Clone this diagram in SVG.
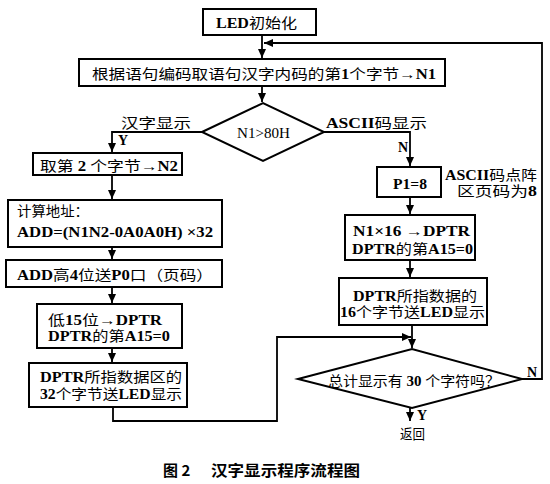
<svg xmlns="http://www.w3.org/2000/svg" width="550" height="484" viewBox="0 0 550 484">
<style>
.b{fill:#fff;stroke:#000;stroke-width:2}
.l{fill:none;stroke:#000;stroke-width:1.8}
text{font-family:"Liberation Serif","Noto Sans CJK SC",serif;font-size:14px;fill:#000}
.w{font-weight:bold}
.cap{font-family:"Noto Sans CJK SC",sans-serif;font-weight:bold;font-size:15px}
</style>
<defs>
<marker id="a" markerWidth="9" markerHeight="8" refX="9" refY="4" orient="auto" markerUnits="userSpaceOnUse"><path d="M0,0 L9,4 L0,8 z" fill="#000"/></marker>
</defs>
<rect width="550" height="484" fill="#fff"/>
<g id="connectors">
<path class="l" d="M262,35 V58" marker-end="url(#a)"/>
<path class="l" d="M522,379 H542 V43 H264" marker-end="url(#a)"/>
<path class="l" d="M262,86 V102" marker-end="url(#a)"/>
<path class="l" d="M202,132 H112 V152" marker-end="url(#a)"/>
<path class="l" d="M324,132 H410 V166" marker-end="url(#a)"/>
<path class="l" d="M112,175 V199" marker-end="url(#a)"/>
<path class="l" d="M112,247 V259" marker-end="url(#a)"/>
<path class="l" d="M112,287 V303" marker-end="url(#a)"/>
<path class="l" d="M112,348 V362" marker-end="url(#a)"/>
<path class="l" d="M113,407 V421 H277 V337 H411" marker-end="url(#a)"/>
<path class="l" d="M410,197 V214" marker-end="url(#a)"/>
<path class="l" d="M410,260 V277" marker-end="url(#a)"/>
<path class="l" d="M412,325 V348" marker-end="url(#a)"/>
<path class="l" d="M410,408 V421" marker-end="url(#a)"/>
</g>
<g id="n-init"><rect class="b" x="203" y="9" width="113" height="26"/><text x="216" y="28" textLength="81" lengthAdjust="spacingAndGlyphs"><tspan class="w">LED</tspan>初始化</text></g>
<g id="n-get1"><rect class="b" x="79" y="59" width="366" height="27"/><text x="92" y="79" textLength="344" lengthAdjust="spacingAndGlyphs">根据语句编码取语句汉字内码的第<tspan class="w">1</tspan>个字节<tspan class="w">→N1</tspan></text></g>
<g id="n-dec1"><polygon class="b" points="202,132 263,103 324,132 263,161"/><text x="237" y="138" textLength="53" lengthAdjust="spacingAndGlyphs">N1&gt;80H</text></g>
<g id="labels1">
<text x="121" y="128" textLength="70" lengthAdjust="spacingAndGlyphs">汉字显示</text>
<text x="326" y="128" textLength="101" lengthAdjust="spacingAndGlyphs"><tspan class="w">ASCII</tspan>码显示</text>
<text class="w" x="118" y="145">Y</text>
<text class="w" x="398" y="152">N</text>
</g>
<g id="n-get2"><rect class="b" x="33" y="153" width="149" height="22"/><text x="40" y="171" textLength="138" lengthAdjust="spacingAndGlyphs">取第 <tspan class="w">2</tspan> 个字节<tspan class="w">→N2</tspan></text></g>
<g id="n-addr"><rect class="b" x="8" y="200" width="214" height="47"/><text x="17" y="216" textLength="72" lengthAdjust="spacingAndGlyphs">计算地址：</text><text class="w" x="17" y="237" textLength="196" lengthAdjust="spacingAndGlyphs">ADD=(N1N2-0A0A0H) ×32</text></g>
<g id="n-p0"><rect class="b" x="6" y="260" width="216" height="27"/><text x="17" y="280" textLength="196" lengthAdjust="spacingAndGlyphs"><tspan class="w">ADD</tspan>高<tspan class="w">4</tspan>位送<tspan class="w">P0</tspan>口（页码）</text></g>
<g id="n-low"><rect class="b" x="37" y="304" width="145" height="44"/><text x="48" y="325" textLength="114" lengthAdjust="spacingAndGlyphs">低<tspan class="w">15</tspan>位<tspan class="w">→DPTR</tspan></text><text x="48" y="341" textLength="122" lengthAdjust="spacingAndGlyphs"><tspan class="w">DPTR</tspan>的第<tspan class="w">A15=0</tspan></text></g>
<g id="n-send32"><rect class="b" x="29" y="363" width="158" height="44"/><text x="40" y="382" textLength="142" lengthAdjust="spacingAndGlyphs"><tspan class="w">DPTR</tspan>所指数据区的</text><text x="40" y="399" textLength="142" lengthAdjust="spacingAndGlyphs"><tspan class="w">32</tspan>个字节送<tspan class="w">LED</tspan>显示</text></g>
<g id="n-p1"><rect class="b" x="377" y="167" width="64" height="30"/><text class="w" x="393" y="189" textLength="34" lengthAdjust="spacingAndGlyphs">P1=8</text></g>
<g id="note-p1"><text x="445" y="180" textLength="92" lengthAdjust="spacingAndGlyphs"><tspan class="w">ASCII</tspan>码点阵</text><text x="457" y="196" textLength="80" lengthAdjust="spacingAndGlyphs">区页码为<tspan class="w">8</tspan></text></g>
<g id="n-n16"><rect class="b" x="345" y="215" width="130" height="45"/><text class="w" x="353" y="236" textLength="117" lengthAdjust="spacingAndGlyphs">N1×16 →DPTR</text><text x="352" y="254" textLength="121" lengthAdjust="spacingAndGlyphs"><tspan class="w">DPTR</tspan>的第<tspan class="w">A15=0</tspan></text></g>
<g id="n-send16"><rect class="b" x="339" y="278" width="148" height="47"/><text x="353" y="301" textLength="124" lengthAdjust="spacingAndGlyphs"><tspan class="w">DPTR</tspan>所指数据的</text><text x="340" y="317" textLength="145" lengthAdjust="spacingAndGlyphs"><tspan class="w">16</tspan>个字节送<tspan class="w">LED</tspan>显示</text></g>
<g id="n-dec2"><polygon class="b" points="298,379 412,349 522,379 412,408"/><text x="328" y="386" textLength="172" lengthAdjust="spacingAndGlyphs">总计显示有 <tspan class="w">30</tspan> 个字符吗？</text></g>
<g id="labels2">
<text class="w" x="527" y="377">N</text>
<text class="w" x="417" y="420">Y</text>
<text x="400" y="439" textLength="25" lengthAdjust="spacingAndGlyphs">返回</text>
</g>
<g id="caption"><text class="cap" x="163" y="476">图 2</text><text class="cap" x="211" y="476" textLength="149" lengthAdjust="spacingAndGlyphs">汉字显示程序流程图</text></g>
</svg>
